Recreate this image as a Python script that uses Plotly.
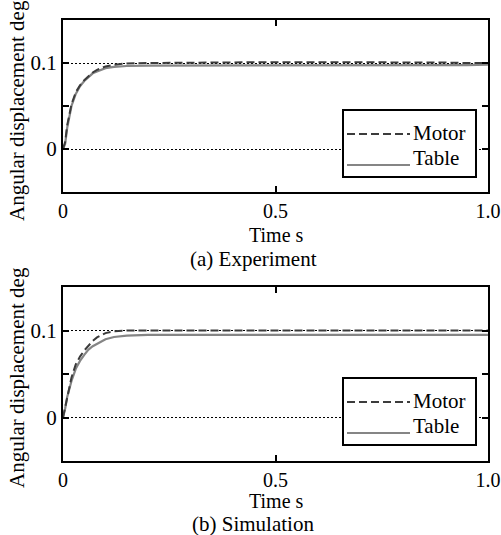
import plotly.graph_objects as go

# ---------------- data ----------------
t_exp = [0, 0.005, 0.01, 0.015, 0.02, 0.03, 0.04, 0.05, 0.06, 0.07, 0.08, 0.09,
         0.10, 0.12, 0.15, 0.2, 0.3, 0.4, 0.5, 0.6, 0.7, 0.8, 0.9, 0.95, 1.0]
motor_exp = [0, 0.008, 0.028, 0.042, 0.052, 0.066, 0.074, 0.080, 0.085, 0.089, 0.092, 0.094,
             0.096, 0.098, 0.0995, 0.100, 0.1005, 0.101, 0.101, 0.101, 0.101, 0.1005, 0.1005, 0.100, 0.100]
table_exp = [0, 0.006, 0.025, 0.040, 0.050, 0.064, 0.073, 0.079, 0.084, 0.088, 0.090, 0.092,
             0.094, 0.0955, 0.0965, 0.097, 0.097, 0.097, 0.097, 0.097, 0.097, 0.097, 0.097, 0.0975, 0.098]

t_sim = [0, 0.005, 0.01, 0.015, 0.02, 0.03, 0.04, 0.05, 0.06, 0.07, 0.08, 0.09,
         0.10, 0.12, 0.15, 0.2, 0.3, 0.4, 0.5, 0.6, 0.7, 0.8, 0.9, 1.0]
motor_sim = [0, 0.012, 0.026, 0.037, 0.046, 0.061, 0.070, 0.077, 0.083, 0.088, 0.092, 0.095,
             0.097, 0.099, 0.100, 0.100, 0.100, 0.100, 0.100, 0.100, 0.100, 0.100, 0.100, 0.100]
table_sim = [0, 0.010, 0.024, 0.034, 0.042, 0.056, 0.065, 0.072, 0.078, 0.082, 0.085, 0.088,
             0.090, 0.0925, 0.094, 0.095, 0.095, 0.095, 0.095, 0.095, 0.095, 0.095, 0.095, 0.095]

x_tickvals = [0, 0.5, 1.0]
x_ticktext = ["0", "0.5", "1.0"]
y_tickvals = [0, 0.1]
y_ticktext = ["0", "0.1"]
y_minor = [0.05]

series_names = ["Motor", "Table"]
y_title = "Angular displacement deg"
x_title = "Time s"
captions = ["(a) Experiment", "(b) Simulation"]

# ---------------- style ----------------
W, H = 501, 535
FONT = "Liberation Serif"
MOTOR_COLOR = "#3c3c3c"
TABLE_COLOR = "#858585"
MOTOR_DASH = "8px,4px"
X_RANGE = [0, 1.0]
Y_RANGE = [-0.05, 0.15]


def px(x):
    return x / W


def py(y):
    return 1 - y / H


fig = go.Figure()

panels = [
    dict(t=t_exp, m=motor_exp, tb=table_exp, xa="x", ya="y"),
    dict(t=t_sim, m=motor_sim, tb=table_sim, xa="x2", ya="y2"),
]

for p in panels:
    fig.add_trace(go.Scatter(x=p["t"], y=p["tb"], mode="lines", name=series_names[1],
                             line=dict(color=TABLE_COLOR, width=2.2),
                             xaxis=p["xa"], yaxis=p["ya"], showlegend=False))
    fig.add_trace(go.Scatter(x=p["t"], y=p["m"], mode="lines", name=series_names[0],
                             line=dict(color=MOTOR_COLOR, width=2, dash=MOTOR_DASH),
                             xaxis=p["xa"], yaxis=p["ya"], showlegend=False))

L, R = 63, 488
tickstyle = dict(ticks="inside", ticklen=6, tickwidth=1.5, tickcolor="black")
common_x = dict(range=X_RANGE, tickvals=x_tickvals, ticktext=x_ticktext, **tickstyle,
                showline=True, linecolor="black", linewidth=2, mirror=True,
                showgrid=False, zeroline=False, ticklabeloverflow="allow",
                tickfont=dict(family=FONT, size=20, color="black"),
                domain=[px(L), px(R)], automargin=False)
common_y = dict(range=Y_RANGE, tickvals=y_tickvals, ticktext=y_ticktext, **tickstyle,
                showline=True, linecolor="black", linewidth=2, mirror=True,
                showgrid=True, gridcolor="black", gridwidth=1, griddash="2px,2px",
                zeroline=False, ticklabeloverflow="allow",
                minor=dict(tickvals=y_minor, ticks="inside", ticklen=6, tickcolor="black",
                           showgrid=False),
                tickfont=dict(family=FONT, size=21, color="black"),
                automargin=False)
# overlay axes carrying the inward ticks on the top and right edges
mirror_x = dict(range=X_RANGE, tickvals=x_tickvals, **tickstyle, side="top",
                showticklabels=False, showline=False, showgrid=False, zeroline=False,
                automargin=False)
mirror_y = dict(range=Y_RANGE, tickvals=y_tickvals + y_minor, **tickstyle, side="right",
                showticklabels=False, showline=False, showgrid=False, zeroline=False,
                automargin=False)

fig.update_layout(
    xaxis=dict(common_x, anchor="y"),
    yaxis=dict(common_y, anchor="x", domain=[py(192), py(20)]),
    xaxis2=dict(common_x, anchor="y2"),
    yaxis2=dict(common_y, anchor="x2", domain=[py(461), py(287)]),
    xaxis3=dict(mirror_x, overlaying="x", anchor="y"),
    yaxis3=dict(mirror_y, overlaying="y", anchor="x"),
    xaxis4=dict(mirror_x, overlaying="x2", anchor="y2"),
    yaxis4=dict(mirror_y, overlaying="y2", anchor="x2"),
)
for xa, ya in [("x3", "y3"), ("x4", "y4")]:
    fig.add_trace(go.Scatter(x=[None], y=[None], xaxis=xa, yaxis=ya, showlegend=False,
                             hoverinfo="skip"))

annotations = []
shapes = []
offsets = [0, 267]
for i, off in enumerate(offsets):
    annotations.append(dict(text=y_title, x=px(17), y=py(111 + off), xref="paper", yref="paper",
                            textangle=-90, showarrow=False, xanchor="center", yanchor="middle",
                            font=dict(family=FONT, size=21, color="black")))
    annotations.append(dict(text=x_title, x=px(276), y=py(235 + off - (1 if i else 0)),
                            xref="paper", yref="paper",
                            showarrow=False, xanchor="center", yanchor="middle",
                            font=dict(family=FONT, size=20, color="black")))
    annotations.append(dict(text=captions[i], x=px(253), y=py(259 + off - (2 if i else 0)),
                            xref="paper", yref="paper",
                            showarrow=False, xanchor="center", yanchor="middle",
                            font=dict(family=FONT, size=21, color="black")))
    ly0 = 110 + (off + 1 if i else 0)
    shapes.append(dict(type="rect", xref="paper", yref="paper",
                       x0=px(343), x1=px(476), y0=py(ly0 + 67), y1=py(ly0),
                       line=dict(color="black", width=2), fillcolor="white", layer="above"))
    shapes.append(dict(type="line", xref="paper", yref="paper",
                       x0=px(347), x1=px(410), y0=py(ly0 + 24), y1=py(ly0 + 24),
                       line=dict(color=MOTOR_COLOR, width=2, dash=MOTOR_DASH), layer="above"))
    shapes.append(dict(type="line", xref="paper", yref="paper",
                       x0=px(347), x1=px(410), y0=py(ly0 + 55), y1=py(ly0 + 55),
                       line=dict(color=TABLE_COLOR, width=2), layer="above"))
    annotations.append(dict(text=series_names[0], x=px(411), y=py(ly0 + 23), xref="paper", yref="paper",
                            showarrow=False, xanchor="left", yanchor="middle",
                            font=dict(family=FONT, size=21, color="black")))
    annotations.append(dict(text=series_names[1], x=px(411), y=py(ly0 + 48), xref="paper", yref="paper",
                            showarrow=False, xanchor="left", yanchor="middle",
                            font=dict(family=FONT, size=21, color="black")))

fig.update_layout(
    width=W, height=H,
    margin=dict(l=0, r=0, t=0, b=0),
    paper_bgcolor="white", plot_bgcolor="white",
    showlegend=False,
    annotations=annotations, shapes=shapes,
    font=dict(family=FONT, size=20, color="black"),
)

fig.write_html("out.html", config={"displayModeBar": False},
               post_script="document.body.style.margin='0';document.body.style.overflow='hidden';")
